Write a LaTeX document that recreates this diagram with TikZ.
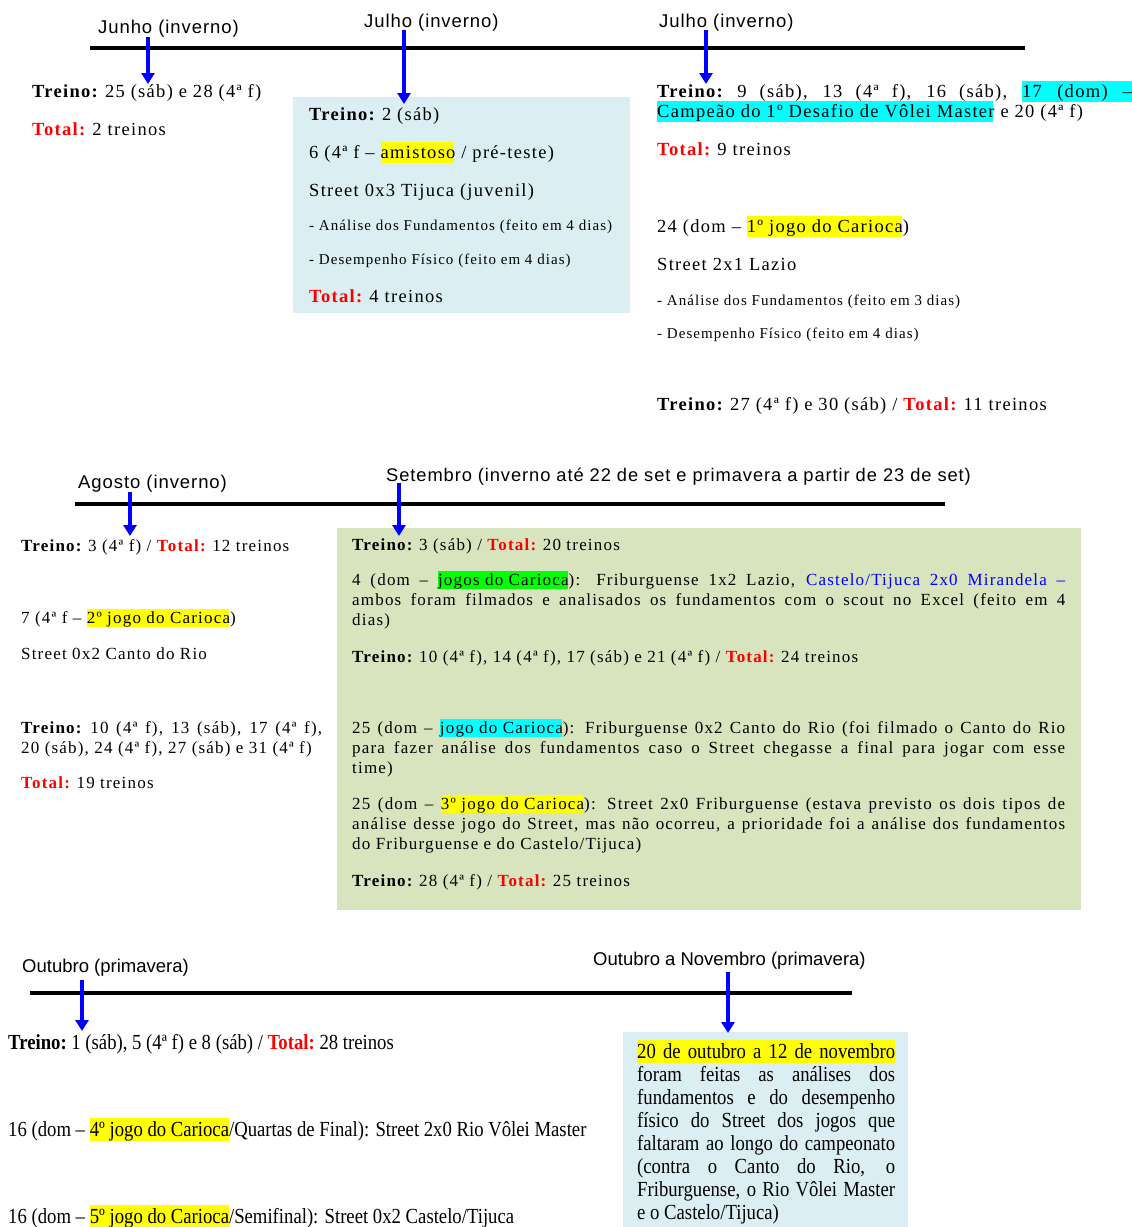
\documentclass[tikz,border=0pt]{standalone}
\usepackage{fontspec}
\usetikzlibrary{arrows.meta}
\setmainfont{Liberation Serif}
\newfontfamily\tsf[LetterSpace=7]{Liberation Serif}
\newfontfamily\csf[FakeStretch=0.87]{Liberation Serif}
\newfontfamily\hsf[LetterSpace=5]{Liberation Sans}
\newfontfamily\hsfn{Liberation Sans}
\definecolor{boxblue}{HTML}{DBEEF3}
\definecolor{boxgreen}{HTML}{D7E4BD}
\definecolor{hlyellow}{HTML}{FFFF00}
\definecolor{hlcyan}{HTML}{00FFFF}
\definecolor{hlgreen}{HTML}{00FF00}
\definecolor{txtred}{HTML}{FF0000}
\definecolor{txtblue}{HTML}{0000FF}
\definecolor{arrblue}{HTML}{0000FF}
\newcommand{\hlt}[2]{{\setlength{\fboxsep}{0pt}\colorbox{#1}{\rule[-.25em]{0pt}{1.1em}#2}}}
\newcommand{\hls}[2]{\hlt{#1}{#2\kern-.07em\relax}\kern.07em\relax}
\newcommand{\TRN}{\textbf{Treino:}}
\newcommand{\TOT}{\textcolor{txtred}{\textbf{Total:}}}
\tikzset{
  hdr/.style={anchor=base west, inner sep=0pt, font=\hsf\fontsize{18.5}{22}\selectfont},
  hdrs/.style={anchor=base west, inner sep=0pt, font=\hsf\fontsize{18.3}{22}\selectfont},
  hdrb/.style={anchor=base west, inner sep=0pt, font=\hsfn\fontsize{18.5}{22}\selectfont},
  txtA/.style={anchor=base west, inner sep=0pt, font=\tsf\fontsize{18.5}{20}\selectfont},
  txtS/.style={anchor=base west, inner sep=0pt, font=\tsf\fontsize{15}{18}\selectfont},
  txtB/.style={anchor=base west, inner sep=0pt, font=\tsf\fontsize{17}{20}\selectfont},
  txtC/.style={anchor=base west, inner sep=0pt, font=\csf\fontsize{21.5}{23}\selectfont},
  tline/.style={line width=4.5pt, black},
  marr/.style={line width=4pt, arrblue, -{Triangle[width=13pt,length=11pt]}},
  bluebox/.style={fill=boxblue},
  greenbox/.style={fill=boxgreen}
}
\begin{document}
\begin{tikzpicture}[x=1pt,y=-1pt]
\useasboundingbox (0,0) rectangle (1132,1227);
% ---------------- Section 1 ----------------
\fill[bluebox] (293,97) rectangle (630,313);
\draw[tline] (90,48) -- (1025,48);
\node[hdr] (h1) at (98,33) {Junho (inverno)};
\node[hdr] (h2) at (364,27) {Julho (inverno)};
\node[hdr] (h3) at (659,27) {Julho (inverno)};
\coordinate (a1s) at (148,37); \coordinate (a1e) at (148,84);
\coordinate (a2s) at (404,30); \coordinate (a2e) at (404,104);
\coordinate (a3s) at (706,30); \coordinate (a3e) at (706,84);
\draw[marr] (a1s) -- (a1e);
\draw[marr] (a2s) -- (a2e);
\draw[marr] (a3s) -- (a3e);
\node[txtA] (t1a) at (32,97) {\TRN\ 25 (sáb) e 28 (4ª f)};
\node[txtA] (t1b) at (32,135) {\TOT\ 2 treinos};
\node[txtA] (t2a) at (309,120) {\TRN\ 2 (sáb)};
\node[txtA] (t2b) at (309,158) {6 (4ª f – \hls{hlyellow}{amistoso} / pré-teste)};
\node[txtA] (t2c) at (309,196) {Street 0x3 Tijuca (juvenil)};
\node[txtS] (t2d) at (309,230) {- Análise dos Fundamentos (feito em 4 dias)};
\node[txtS] (t2e) at (309,264) {- Desempenho Físico (feito em 4 dias)};
\node[txtA] (t2f) at (309,302) {\TOT\ 4 treinos};
\node[txtA] (t3a) at (657,97) {\makebox[475pt][s]{\TRN\ 9 (sáb), 13 (4ª f), 16 (sáb), \hlt{hlcyan}{\makebox[110pt][s]{17 (dom) –}}}};
\node[txtA] (t3b) at (657,117) {\hls{hlcyan}{Campeão do 1º Desafio de Vôlei Master} e 20 (4ª f)};
\node[txtA] (t3c) at (657,155) {\TOT\ 9 treinos};
\node[txtA] (t3d) at (657,232) {24 (dom – \hls{hlyellow}{1º jogo do Carioca})};
\node[txtA] (t3e) at (657,270) {Street 2x1 Lazio};
\node[txtS] (t3f) at (657,305) {- Análise dos Fundamentos (feito em 3 dias)};
\node[txtS] (t3g) at (657,338) {- Desempenho Físico (feito em 4 dias)};
\node[txtA] (t3h) at (657,410) {\TRN\ 27 (4ª f) e 30 (sáb) / \TOT\ 11 treinos};
% ---------------- Section 2 ----------------
\fill[greenbox] (337,528) rectangle (1081,910);
\draw[tline] (75,504) -- (945,504);
\node[hdr] (h4) at (78,488) {Agosto (inverno)};
\node[hdrs] (h5) at (386,481) {Setembro (inverno até 22 de set e primavera a partir de 23 de set)};
\coordinate (a4s) at (130,492); \coordinate (a4e) at (130,536);
\coordinate (a5s) at (399,483); \coordinate (a5e) at (399,536);
\draw[marr] (a4s) -- (a4e);
\draw[marr] (a5s) -- (a5e);
\node[txtB] (t4a) at (21,551) {\TRN\ 3 (4ª f) / \TOT\ 12 treinos};
\node[txtB] (t4b) at (21,623) {7 (4ª f – \hls{hlyellow}{2º jogo do Carioca})};
\node[txtB] (t4c) at (21,659) {Street 0x2 Canto do Rio};
\node[txtB] (t4d) at (21,733) {\makebox[301pt][s]{\TRN\ 10 (4ª f), 13 (sáb), 17 (4ª f),}};
\node[txtB] (t4e) at (21,753) {20 (sáb), 24 (4ª f), 27 (sáb) e 31 (4ª f)};
\node[txtB] (t4f) at (21,788) {\TOT\ 19 treinos};
\node[txtB] (g1) at (352,550) {\TRN\ 3 (sáb) / \TOT\ 20 treinos};
\node[txtB] (g2a) at (352,585) {\makebox[713pt][s]{4 (dom – \hls{hlgreen}{jogos do Carioca}): Friburguense 1x2 Lazio, \textcolor{txtblue}{Castelo/Tijuca 2x0 Mirandela –}}};
\node[txtB] (g2b) at (352,605) {\makebox[713pt][s]{ambos foram filmados e analisados os fundamentos com o scout no Excel (feito em 4}};
\node[txtB] (g2c) at (352,625) {dias)};
\node[txtB] (g3) at (352,662) {\TRN\ 10 (4ª f), 14 (4ª f), 17 (sáb) e 21 (4ª f) / \TOT\ 24 treinos};
\node[txtB] (g4a) at (352,733) {\makebox[713pt][s]{25 (dom – \hls{hlcyan}{jogo do Carioca}): Friburguense 0x2 Canto do Rio (foi filmado o Canto do Rio}};
\node[txtB] (g4b) at (352,753) {\makebox[713pt][s]{para fazer análise dos fundamentos caso o Street chegasse a final para jogar com esse}};
\node[txtB] (g4c) at (352,773) {time)};
\node[txtB] (g5a) at (352,809) {\makebox[713pt][s]{25 (dom – \hls{hlyellow}{3º jogo do Carioca}): Street 2x0 Friburguense (estava previsto os dois tipos de}};
\node[txtB] (g5b) at (352,829) {\makebox[713pt][s]{análise desse jogo do Street, mas não ocorreu, a prioridade foi a análise dos fundamentos}};
\node[txtB] (g5c) at (352,849) {do Friburguense e do Castelo/Tijuca)};
\node[txtB] (g6) at (352,886) {\TRN\ 28 (4ª f) / \TOT\ 25 treinos};
% ---------------- Section 3 ----------------
\fill[bluebox] (623,1032) rectangle (908,1227);
\draw[tline] (30,993) -- (852,993);
\node[hdrb] (h6) at (22,972) {Outubro (primavera)};
\node[hdrb] (h7) at (593,965) {Outubro a Novembro (primavera)};
\coordinate (a6s) at (82,980); \coordinate (a6e) at (82,1031);
\coordinate (a7s) at (728,972); \coordinate (a7e) at (728,1033);
\draw[marr] (a6s) -- (a6e);
\draw[marr] (a7s) -- (a7e);
\node[txtC] (b1) at (8,1049) {\TRN\ 1 (sáb), 5 (4ª f) e 8 (sáb) / \TOT\ 28 treinos};
\node[txtC] (b2) at (8,1136) {16 (dom – \hlt{hlyellow}{4º jogo do Carioca}/Quartas de Final): Street 2x0 Rio Vôlei Master};
\node[txtC] (b3) at (8,1223) {16 (dom – \hlt{hlyellow}{5º jogo do Carioca}/Semifinal): Street 0x2 Castelo/Tijuca};
\node[txtC] (r1) at (637,1058) {\hlt{hlyellow}{\makebox[258pt][s]{20 de outubro a 12 de novembro}}};
\node[txtC] (r2) at (637,1081) {\makebox[258pt][s]{foram feitas as análises dos}};
\node[txtC] (r3) at (637,1104) {\makebox[258pt][s]{fundamentos e do desempenho}};
\node[txtC] (r4) at (637,1127) {\makebox[258pt][s]{físico do Street dos jogos que}};
\node[txtC] (r5) at (637,1150) {\makebox[258pt][s]{faltaram ao longo do campeonato}};
\node[txtC] (r6) at (637,1173) {\makebox[258pt][s]{(contra o Canto do Rio, o}};
\node[txtC] (r7) at (637,1196) {\makebox[258pt][s]{Friburguense, o Rio Vôlei Master}};
\node[txtC] (r8) at (637,1219) {e o Castelo/Tijuca)};
\end{tikzpicture}
\end{document}
